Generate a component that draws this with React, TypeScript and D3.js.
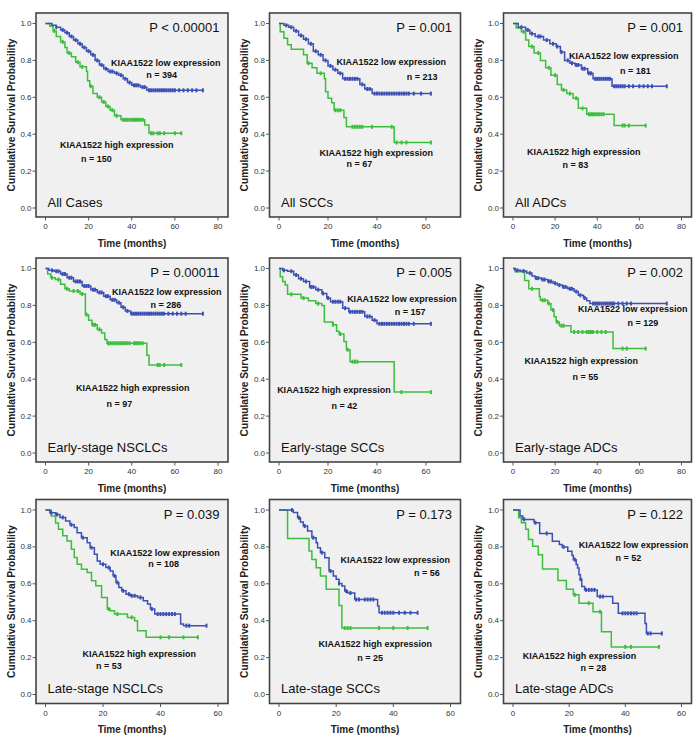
import React from "react";
import * as d3 from "d3";

// ---------- Data ----------
// Each curve: steps = [time (months), survival after drop], end = last follow-up, censors = censored times
const allCasesLow: [number, number][] = [[3,0.99],[5,0.98],[7,0.965],[9,0.95],[11,0.93],[13,0.91],[15,0.89],[17,0.87],[19,0.85],[21,0.83],[23,0.8],[25,0.775],[27,0.755],[29,0.74],[32,0.73],[34,0.72],[36,0.7],[38,0.68],[40,0.665],[44,0.655],[47,0.638]];
const allCasesLowCens = [5,8,10,12,14,16,18,20,22,24,26,28,30,31,33,35,37,39,41,42,43,45,46,48,49,50,51,52,53,54,55,56,57,58,59,60,62,64,66,68,70,73];
const allCasesHigh: [number, number][] = [[2,0.985],[3.5,0.96],[5,0.93],[7,0.9],[9,0.87],[10,0.84],[12,0.82],[14,0.79],[16,0.765],[19,0.74],[19.5,0.69],[20.5,0.66],[22,0.62],[24,0.6],[26,0.575],[28,0.55],[30,0.53],[32,0.5],[35,0.478],[46,0.45],[48,0.405]];
const allCasesHighCens = [4,8,11,15,17,21,25,27,29,31,33,36,37,38,39,40,41,42,43,44,45,49,50,52,53,55,60,63];

const allSccLow: [number, number][] = [[2,0.99],[4,0.98],[6,0.96],[8,0.935],[10,0.915],[12,0.89],[14,0.85],[16,0.83],[18,0.8],[20,0.77],[22,0.75],[24,0.73],[26,0.7],[33,0.67],[35,0.645],[38,0.62]];
const allSccLowCens = [3,5,7,9,11,13,15,17,19,21,23,25,27,28,29,30,31,32,34,36,37,39,40,41,42,43,44,45,46,47,48,49,50,51,52,53,55,58,62];
const allSccHigh: [number, number][] = [[0.5,0.955],[2,0.92],[3.5,0.885],[5,0.86],[10,0.83],[11.5,0.785],[13.5,0.76],[15.5,0.73],[18.5,0.7],[19,0.63],[20,0.595],[21.5,0.57],[22.5,0.53],[26.5,0.49],[27.5,0.44],[47,0.355]];
const allSccHighCens = [12,17,23,24,25,30,31,32,33,34,38,46,48,50,52,62];

const allAdcLow: [number, number][] = [[2.5,0.98],[6,0.965],[8,0.945],[10.5,0.93],[14.5,0.91],[17.5,0.89],[20.5,0.875],[22.5,0.845],[24.5,0.8],[27,0.785],[29.5,0.775],[32.5,0.755],[35.5,0.73],[38,0.7],[47,0.66]];
const allAdcLowCens = [4,7,9,12,13,16,19,21,23,26,28,30,31,33,34,36,37,39,40,41,42,43,44,45,46,48,49,50,51,52,53,55,57,60,62,64,66,73];
const allAdcHigh: [number, number][] = [[1.5,0.975],[4,0.955],[6,0.91],[7.5,0.875],[10,0.84],[13,0.8],[15.5,0.76],[18,0.72],[21,0.67],[23,0.64],[25.5,0.62],[28.5,0.595],[31,0.54],[35,0.508],[48,0.447]];
const allAdcHighCens = [5,9,12,17,20,24,27,30,33,36,37,38,39,40,41,42,43,52,53,55,63];

const earlyNsclcLow: [number, number][] = [[1.5,0.99],[4,0.985],[7,0.97],[10,0.95],[13,0.93],[17,0.905],[21,0.885],[24,0.87],[27,0.85],[30,0.83],[33,0.815],[35,0.79],[37,0.77],[39.5,0.755]];
const earlyNsclcLowCens = [3,5,6,8,9,11,12,14,15,16,18,19,20,22,23,25,26,28,29,31,32,34,36,38,40,41,42,43,44,45,46,47,48,49,50,51,52,53,54,55,57,59,61,63,65,73];
const earlyNsclcHigh: [number, number][] = [[1,0.97],[2.5,0.95],[4.5,0.94],[7,0.915],[9,0.89],[11,0.878],[16,0.862],[18.5,0.75],[20,0.72],[21.5,0.695],[24,0.67],[26,0.65],[27.5,0.615],[28.5,0.595],[47,0.53],[48,0.477]];
const earlyNsclcHighCens = [3,6,10,13,15,17,19,22,23,25,29,30,31,32,33,34,35,36,37,38,39,41,42,43,44,45,52,53,55,63];

const earlySccLow: [number, number][] = [[1.5,0.99],[3.5,0.985],[6,0.965],[8,0.945],[10,0.93],[12.5,0.9],[15,0.885],[17.5,0.865],[19.5,0.84],[21,0.82],[26,0.785],[28.5,0.765],[35,0.74],[38,0.72],[40,0.7]];
const earlySccLowCens = [2,5,7,9,11,13,14,16,18,20,22,23,24,25,27,29,30,31,32,33,34,36,37,39,41,42,43,44,45,46,47,48,49,50,51,52,53,55,62];
const earlySccHigh: [number, number][] = [[0.5,0.955],[1.5,0.93],[2.5,0.91],[3.5,0.86],[9,0.84],[12,0.825],[15,0.81],[17.5,0.8],[18.5,0.71],[22,0.695],[23.5,0.66],[24.5,0.645],[26.5,0.605],[27.5,0.56],[29,0.495],[47,0.33]];
const earlySccHighCens = [5,10,16,22,25,28,30,31,32,50,62];

const earlyAdcLow: [number, number][] = [[1,0.99],[3.5,0.986],[6.5,0.975],[9,0.96],[10.5,0.948],[13.5,0.94],[16.5,0.93],[19,0.92],[21,0.91],[23.5,0.9],[26,0.89],[29,0.875],[31,0.855],[33.5,0.84],[35,0.825],[36.5,0.81]];
const earlyAdcLowCens = [2,5,8,11,12,14,15,17,18,20,22,24,25,27,28,30,32,34,38,39,40,41,42,43,44,45,46,47,48,50,52,54,56,73];
const earlyAdcHigh: [number, number][] = [[1,0.982],[5.5,0.935],[7.5,0.89],[12.5,0.848],[13,0.828],[16.5,0.81],[18,0.775],[19.5,0.738],[20.5,0.71],[22,0.69],[27.5,0.656],[47.5,0.566]];
const earlyAdcHighCens = [9,14,15,17,19,21,23,24,29,31,33,35,36,37,38,40,42,44,52,54,63];

const lateNsclcLow: [number, number][] = [[1.5,0.985],[3.5,0.975],[5,0.96],[7,0.94],[8.5,0.92],[10,0.905],[11,0.877],[12.5,0.85],[14.5,0.823],[15.5,0.796],[17,0.76],[18,0.723],[19,0.706],[21,0.688],[22.5,0.67],[23.5,0.643],[24.5,0.607],[25.5,0.58],[26.5,0.562],[28,0.544],[29.5,0.535],[32,0.526],[34,0.508],[35.5,0.49],[36.5,0.463],[38,0.436],[47,0.382],[48,0.373]];
const lateNsclcLowCens = [2,4,6,9,13,16,20,22,24,25,27,29,30,31,33,37,39,40,41,42,43,44,45,49,50,56];
const lateNsclcHigh: [number, number][] = [[2,0.968],[3.5,0.93],[4.5,0.896],[6,0.86],[7.5,0.832],[9,0.787],[10,0.742],[11,0.706],[12.5,0.679],[14.5,0.661],[16,0.616],[17.5,0.589],[19.5,0.526],[21.5,0.463],[22.5,0.454],[24,0.436],[28.5,0.418],[31,0.4],[32,0.346],[35,0.31]];
const lateNsclcHighCens = [22,25,30,40,43,48,53];

const lateSccLow: [number, number][] = [[5,0.986],[6.5,0.958],[7.5,0.935],[8.5,0.913],[10,0.886],[11.5,0.85],[13,0.823],[13.5,0.796],[14.5,0.769],[16,0.741],[17.5,0.669],[19,0.642],[20,0.624],[21,0.602],[22,0.588],[23,0.561],[24,0.55],[26.5,0.515],[34.5,0.479],[35,0.443]];
const lateSccLowCens = [4.5,7,9,12,15,18,21,23.5,25,27,28,30,31,32,33,36,37,38,39,40,42,44,46,48.5];
const lateSccHigh: [number, number][] = [[3,0.845],[10.5,0.778],[11.5,0.732],[13,0.687],[14.5,0.642],[16.5,0.57],[21,0.483],[22,0.36]];
const lateSccHighCens = [23,24,25,35,40,45,52];

const lateAdcLow: [number, number][] = [[2.5,0.967],[3.5,0.949],[7.5,0.931],[9.5,0.873],[14,0.831],[16.5,0.813],[17.5,0.8],[19.5,0.776],[21,0.753],[21.5,0.731],[22.5,0.704],[23,0.685],[23.5,0.649],[24,0.625],[24.5,0.585],[25.5,0.567],[30,0.531],[35.5,0.495],[37.5,0.44],[47,0.385],[47.5,0.331]];
const lateAdcLowCens = [4,8,12,18,22,24,26,27,28,29,31,32,39,40,41,42,43,44,48,49,53];
const lateAdcHigh: [number, number][] = [[2,0.958],[3,0.931],[4.5,0.895],[5.5,0.84],[7,0.804],[9,0.758],[10.5,0.68],[16,0.618],[19,0.571],[21.5,0.54],[23.5,0.495],[28.5,0.449],[31.5,0.34],[35,0.258]];
const lateAdcHighCens = [22,27,31,40,42,52];

const panelNames = ["All Cases","All SCCs","All ADCs","Early-stage NSCLCs","Early-stage SCCs","Early-stage ADCs","Late-stage NSCLCs","Late-stage SCCs","Late-stage ADCs"];
const pValues = ["P < 0.00001","P = 0.001","P = 0.001","P = 0.00011","P = 0.005","P = 0.002","P = 0.039","P = 0.173","P = 0.122"];
const nLow = [394,213,181,286,157,129,108,56,52];
const nHigh = [150,67,83,97,42,55,53,25,28];
const lowEnd = [73,62,73,73,62,73,56,48.5,53];
const highEnd = [63,62,63,63,62,63,53,52,52];
const ticks80 = [0,20,40,60,80];
const ticks60 = [0,20,40,60];
const yTicks = [0,0.2,0.4,0.6,0.8,1.0];

const lowSteps = [allCasesLow, allSccLow, allAdcLow, earlyNsclcLow, earlySccLow, earlyAdcLow, lateNsclcLow, lateSccLow, lateAdcLow];
const lowCens = [allCasesLowCens, allSccLowCens, allAdcLowCens, earlyNsclcLowCens, earlySccLowCens, earlyAdcLowCens, lateNsclcLowCens, lateSccLowCens, lateAdcLowCens];
const highSteps = [allCasesHigh, allSccHigh, allAdcHigh, earlyNsclcHigh, earlySccHigh, earlyAdcHigh, lateNsclcHigh, lateSccHigh, lateAdcHigh];
const highCens = [allCasesHighCens, allSccHighCens, allAdcHighCens, earlyNsclcHighCens, earlySccHighCens, earlyAdcHighCens, lateNsclcHighCens, lateSccHighCens, lateAdcHighCens];

// ---------- Layout ----------
const colLeft = [36, 269.5, 503.5];
const colWidth = [192, 191, 188];
const rowTop = [13, 258, 499.5];
const BOX_H = 204;
const panelTicks = [ticks80, ticks60, ticks80, ticks80, ticks60, ticks80, ticks60, ticks60, ticks60];
const panelDomainMax = [80, 70, 80, 80, 70, 80, 60, 60, 60];
// label centers relative to box top-left: [lowLabel, lowN, highLabel, highN]
const labelPos: [number, number][][] = [
  [[129.7,49.7],[125.7,62.3],[80.7,132],[60.3,146.3]],
  [[121.7,48.7],[152.7,64.3],[106.7,140],[90,151]],
  [[120.3,42.7],[132,57.7],[80.3,139.3],[72,151.7]],
  [[130.7,34.4],[130,46.7],[96.7,130.4],[83.3,146]],
  [[132.4,40.7],[140.7,53.7],[64.4,132],[75,148]],
  [[129.3,51],[139.3,65],[77.7,102.7],[82,119.3]],
  [[129,53],[127.6,64.7],[103.3,154],[73,166.5]],
  [[125.7,60],[157.4,73.4],[105.7,144.7],[100.7,158]],
  [[130,45],[125,58.3],[76,156.7],[90,168.3]],
];

const FONT = "Arial, 'Liberation Sans', Helvetica, sans-serif";
const BLUE = "#3c50b4";
const GREEN = "#3cbe3c";

function survAt(steps: [number, number][], t: number) {
  let s = 1;
  for (const [ts, v] of steps) if (ts <= t) s = v;
  return s;
}

function Curve({ steps, end, cens, x, y, color }: any) {
  let d = `M${x(0)},${y(1)}`;
  for (const [t, s] of steps) d += `H${x(t)}V${y(s)}`;
  d += `H${x(end)}`;
  return (
    <g>
      <path d={d} fill="none" stroke={color} strokeWidth={1.5} />
      {cens.map((t: number, i: number) => {
        const cx = x(t);
        const cy = y(survAt(steps, t));
        return <line key={i} x1={cx} x2={cx} y1={cy - 2} y2={cy + 2} stroke={color} strokeWidth={2} />;
      })}
    </g>
  );
}

function Panel({ i }: { i: number }) {
  const col = i % 3;
  const row = Math.floor(i / 3);
  const left = colLeft[col];
  const w = colWidth[col];
  const top = rowTop[row];
  const bottom = top + BOX_H;
  const right = left + w;
  const x = d3.scaleLinear().domain([0, panelDomainMax[i]]).range([left + 9.5, right - 10]);
  const y = d3.scaleLinear().domain([0, 1]).range([bottom - 9, top + 10.5]);
  const lp = labelPos[i];
  const lbl = { fontFamily: FONT, fontWeight: "bold" as const, fontSize: 9, fill: "#111", textAnchor: "middle" as const, dominantBaseline: "central" as const };
  return (
    <g>
      <rect x={left} y={top} width={w} height={BOX_H} fill="#f0f0f0" stroke="#444" strokeWidth={1.6} />
      {yTicks.map((t) => (
        <g key={t}>
          <line x1={left - 3.5} x2={left} y1={y(t)} y2={y(t)} stroke="#555" strokeWidth={1} />
          <text x={left - 4.5} y={y(t)} textAnchor="end" dominantBaseline="central" fontFamily={FONT} fontSize={8} fill="#333">{d3.format(".1f")(t)}</text>
        </g>
      ))}
      {panelTicks[i].map((t) => (
        <g key={t}>
          <line x1={x(t)} x2={x(t)} y1={bottom} y2={bottom + 3.5} stroke="#555" strokeWidth={1} />
          <text x={x(t)} y={bottom + 9.5} textAnchor="middle" dominantBaseline="central" fontFamily={FONT} fontSize={8} fill="#333">{t}</text>
        </g>
      ))}
      <text x={(left + right) / 2} y={bottom + 26} textAnchor="middle" dominantBaseline="central" fontFamily={FONT} fontWeight="bold" fontSize={10} fill="#222">Time (months)</text>
      <text transform={`translate(${left - 25},${(top + bottom) / 2}) rotate(-90)`} textAnchor="middle" dominantBaseline="central" fontFamily={FONT} fontWeight="bold" fontSize={10.2} fill="#222">Cumulative Survival Probability</text>
      <Curve steps={highSteps[i]} end={highEnd[i]} cens={highCens[i]} x={x} y={y} color={GREEN} />
      <Curve steps={lowSteps[i]} end={lowEnd[i]} cens={lowCens[i]} x={x} y={y} color={BLUE} />
      <text x={right - 8.5} y={top + 14.5} textAnchor="end" dominantBaseline="central" fontFamily={FONT} fontSize={13} fill="#111">{pValues[i]}</text>
      <text x={left + 11.5} y={bottom - 15} dominantBaseline="central" fontFamily={FONT} fontSize={13} fill="#111">{panelNames[i]}</text>
      <text x={left + lp[0][0]} y={top + lp[0][1]} {...lbl}>KIAA1522 low expression</text>
      <text x={left + lp[1][0]} y={top + lp[1][1]} {...lbl}>{`n = ${nLow[i]}`}</text>
      <text x={left + lp[2][0]} y={top + lp[2][1]} {...lbl}>KIAA1522 high expression</text>
      <text x={left + lp[3][0]} y={top + lp[3][1]} {...lbl}>{`n = ${nHigh[i]}`}</text>
    </g>
  );
}

export default function App() {
  return (
    <svg width={700} height={741} style={{ position: "absolute", left: 0, top: 0, background: "#fff" }}>
      {panelNames.map((_, i) => <Panel key={i} i={i} />)}
    </svg>
  );
}
